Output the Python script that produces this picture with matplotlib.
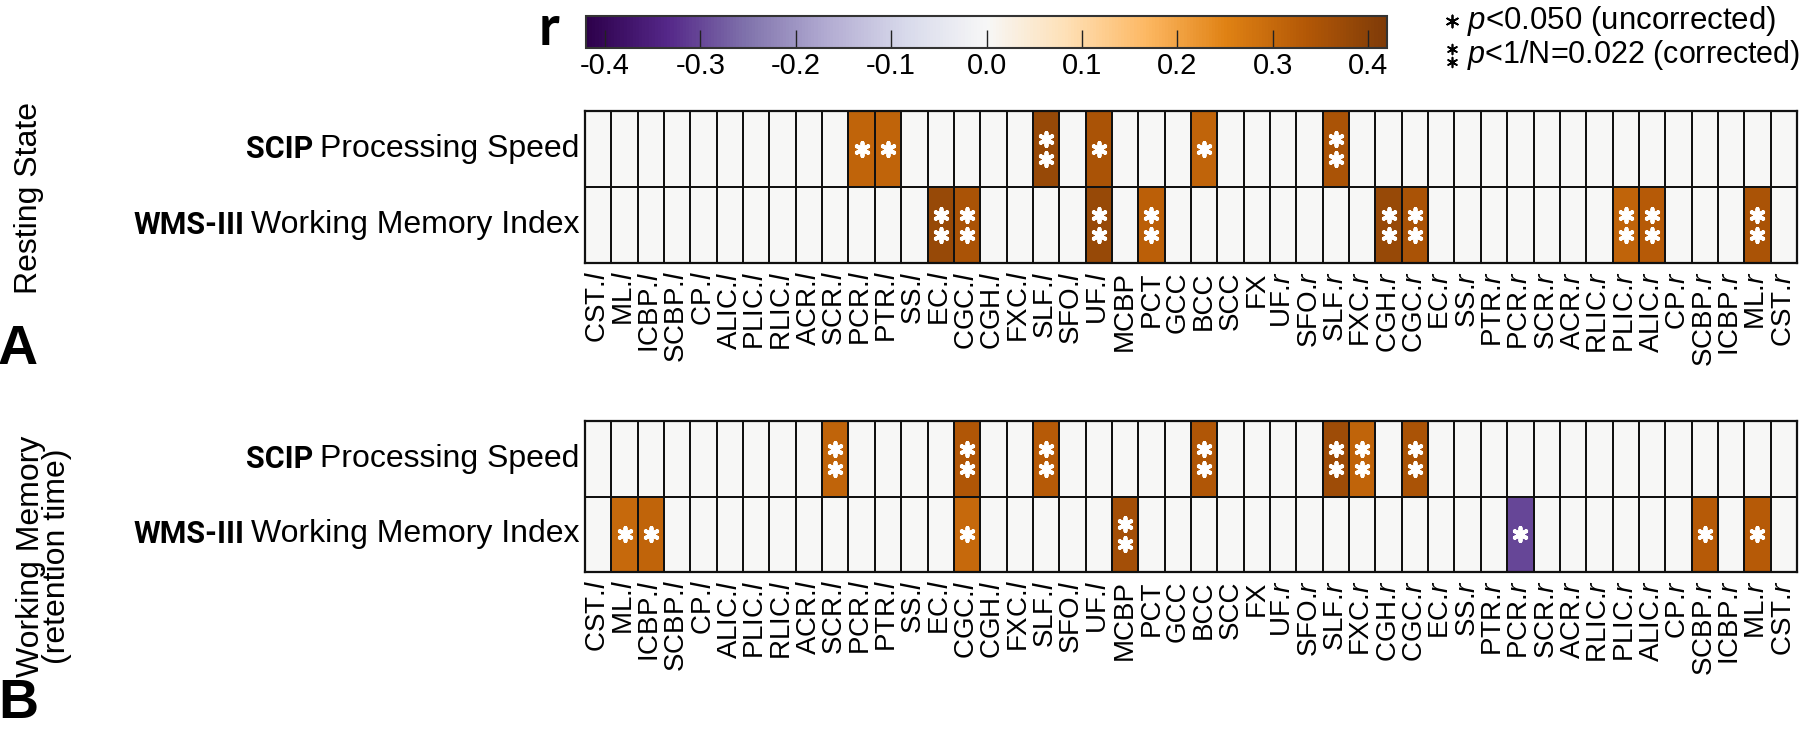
import numpy as np
import matplotlib
matplotlib.use("Agg")
import matplotlib.pyplot as plt
from matplotlib.cm import ScalarMappable
from matplotlib.colors import Normalize

plt.rcParams["font.family"] = ["Liberation Sans", "DejaVu Sans"]
plt.rcParams["mathtext.fontset"] = "custom"
plt.rcParams["mathtext.rm"] = "Liberation Sans"
plt.rcParams["mathtext.it"] = "Liberation Sans:italic"
plt.rcParams["axes.unicode_minus"] = False

# white-matter tracts (columns)
tracts = ["CST.l", "ML.l", "ICBP.l", "SCBP.l", "CP.l", "ALIC.l", "PLIC.l", "RLIC.l",
          "ACR.l", "SCR.l", "PCR.l", "PTR.l", "SS.l", "EC.l", "CGC.l", "CGH.l",
          "FXC.l", "SLF.l", "SFO.l", "UF.l", "MCBP", "PCT", "GCC", "BCC", "SCC", "FX",
          "UF.r", "SFO.r", "SLF.r", "FXC.r", "CGH.r", "CGC.r", "EC.r", "SS.r", "PTR.r",
          "PCR.r", "SCR.r", "ACR.r", "RLIC.r", "PLIC.r", "ALIC.r", "CP.r", "SCBP.r",
          "ICBP.r", "ML.r", "CST.r"]
test_bold = ["SCIP", "WMS-III"]
test_names = ["Processing Speed", "Working Memory Index"]

# A: resting state
rest_scip_tracts = ["PCR.l", "PTR.l", "SLF.l", "UF.l", "BCC", "SLF.r"]
rest_scip_r = [0.31, 0.31, 0.38, 0.35, 0.31, 0.35]
rest_scip_sig = [1, 1, 2, 1, 1, 2]

rest_wms_tracts = ["EC.l", "CGC.l", "UF.l", "PCT", "CGH.r", "CGC.r", "PLIC.r", "ALIC.r", "ML.r"]
rest_wms_r = [0.38, 0.35, 0.38, 0.32, 0.38, 0.35, 0.31, 0.33, 0.35]
rest_wms_sig = [2, 2, 2, 2, 2, 2, 2, 2, 2]

# B: working memory (retention time)
wm_scip_tracts = ["SCR.l", "CGC.l", "SLF.l", "BCC", "SLF.r", "FXC.r", "CGC.r"]
wm_scip_r = [0.31, 0.34, 0.33, 0.34, 0.37, 0.31, 0.35]
wm_scip_sig = [2, 2, 2, 2, 2, 2, 2]

wm_wms_tracts = ["ML.l", "ICBP.l", "CGC.l", "MCBP", "PCR.r", "SCBP.r", "ML.r"]
wm_wms_r = [0.30, 0.31, 0.30, 0.36, -0.30, 0.33, 0.33]
wm_wms_sig = [1, 1, 1, 2, 1, 1, 1]

cb_ticks = [-0.4, -0.3, -0.2, -0.1, 0.0, 0.1, 0.2, 0.3, 0.4]

W, H = 1800, 731
cmap = plt.get_cmap("PuOr_r")
norm = Normalize(vmin=-0.42, vmax=0.42)


def build(names, vals, sig):
    r = np.zeros(len(tracts))
    s = np.zeros(len(tracts), dtype=int)
    for t, v, k in zip(names, vals, sig):
        i = tracts.index(t)
        r[i] = v
        s[i] = k
    return r, s


def tick_label(t):
    if t.endswith(".l") or t.endswith(".r"):
        return t[:-1] + r"$\mathit{" + t[-1] + "}$"
    return t


fig = plt.figure(figsize=(W / 100, H / 100), dpi=100)

# overlay in pixel coordinates for free text
ov = fig.add_axes([0, 0, 1, 1])
ov.set_xlim(0, W)
ov.set_ylim(H, 0)
ov.axis("off")
ov.patch.set_visible(False)


def px_axes(x0, y0, x1, y1):
    return fig.add_axes([x0 / W, 1 - y1 / H, (x1 - x0) / W, (y1 - y0) / H])


def draw_panel(box, rows):
    ax = px_axes(*box)
    data = np.vstack([r for r, s in rows])
    n = data.shape[1]
    ax.pcolormesh(data, cmap=cmap, norm=norm, edgecolors="#111111", linewidth=1.3)
    ax.set_xlim(0, n)
    ax.set_ylim(len(rows), 0)
    star = dict(marker=(6, 2, 0), s=90, color="white", linewidths=2.8, zorder=3)
    for j, (r, s) in enumerate(rows):
        for i, k in enumerate(s):
            if k == 1:
                ax.scatter(i + 0.5, j + 0.5, **star)
            elif k == 2:
                ax.scatter([i + 0.5, i + 0.5], [j + 0.37, j + 0.63], **star)
    ax.set_xticks(np.arange(n) + 0.5)
    ax.set_xticklabels([tick_label(t) for t in tracts], rotation=90, fontsize=20)
    ax.tick_params(axis="x", length=0, pad=6)
    ax.set_yticks([])
    for sp in ax.spines.values():
        sp.set_linewidth(1.6)
        sp.set_color("#111111")
    for j in range(len(rows)):
        t = ax.text(-0.2, j + 0.5, test_names[j], ha="right", va="center", fontsize=23)
        ax.annotate(test_bold[j], xy=(0, 0.5), xycoords=t, xytext=(-5, 0),
                    textcoords="offset points", ha="right", va="center", fontsize=22,
                    fontfamily=["Liberation Sans Narrow", "Roboto"], fontweight="bold")
    return ax


draw_panel((585, 111, 1797, 263),
           [build(rest_scip_tracts, rest_scip_r, rest_scip_sig),
            build(rest_wms_tracts, rest_wms_r, rest_wms_sig)])
draw_panel((585, 421, 1797, 572),
           [build(wm_scip_tracts, wm_scip_r, wm_scip_sig),
            build(wm_wms_tracts, wm_wms_r, wm_wms_sig)])

# colorbar
cax = px_axes(586, 16, 1387, 48)
cb = fig.colorbar(ScalarMappable(norm=norm, cmap=cmap), cax=cax, orientation="horizontal")
cb.set_ticks(cb_ticks)
cb.set_ticklabels([f"{v:.1f}" for v in cb_ticks])
cb.ax.tick_params(direction="in", length=13, width=1, labelsize=21, pad=3, color="#222222")
cb.outline.set_linewidth(1.5)
cb.outline.set_edgecolor("#333333")
ov.text(549, 29, "r", fontsize=40, fontfamily="Lato", fontweight="bold", ha="center", va="center")

# legend
ov.scatter(1452, 21, marker=(6, 2, 0), s=75, color="black", linewidths=1.3)
ov.text(1467, 21, r"$p$<0.050 (uncorrected)", fontsize=22.5, ha="left", va="center")
ov.scatter([1452, 1452], [49, 62], marker=(6, 2, 0), s=50, color="black", linewidths=1.2)
ov.text(1467, 55, r"$p$<1/N=0.022 (corrected)", fontsize=22, ha="left", va="center")

# panel titles
ov.text(29, 198, "Resting State", rotation=90, fontsize=23, ha="center", va="center")
ov.text(44, 556, "Working Memory\n(retention time)", rotation=90, fontsize=23,
        ha="center", va="center", linespacing=0.85)
ov.text(18, 364, "A", fontsize=40, fontweight="bold", ha="center", va="baseline")
ov.text(18, 718, "B", fontsize=40, fontweight="bold", ha="center", va="baseline")

fig.savefig("out.png", dpi=100)
